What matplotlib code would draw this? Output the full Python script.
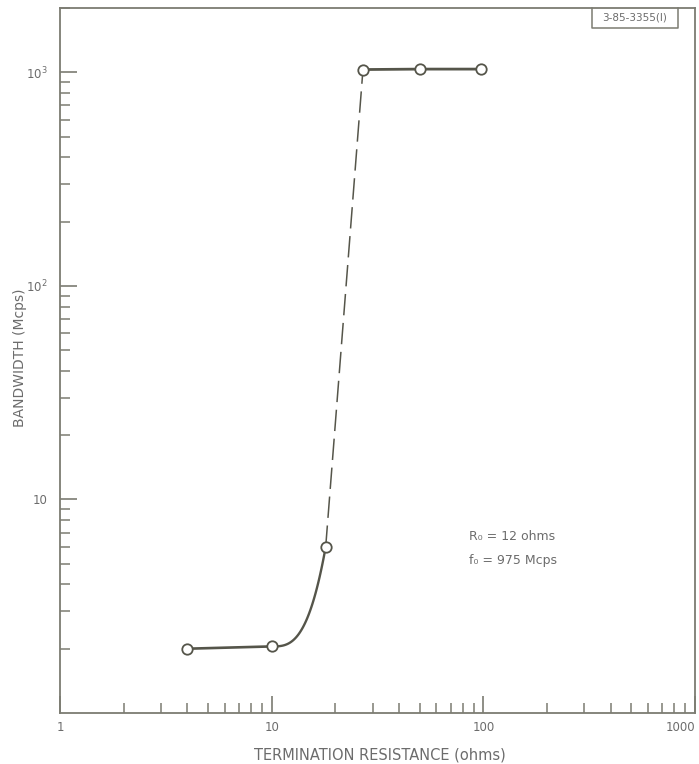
import numpy as np
import matplotlib
matplotlib.use('Agg')
import matplotlib.pyplot as plt
from matplotlib.ticker import LogLocator, NullFormatter, FixedLocator

# data
resistance = [4, 10, 18, 27, 50, 97]          # ohms
bandwidth = [2.0, 2.05, 6.0, 1030, 1035, 1035]  # Mcps
x_ticks = [1, 10, 100, 1000]
x_ticklabels = ['1', '10', '100', '1000']
y_ticks = [10, 100, 1000]
y_ticklabels = ['10', r'$\mathregular{10^2}$', r'$\mathregular{10^3}$']
note_lines = ['R\u2080 = 12 ohms', 'f\u2080 = 975 Mcps']
fig_id = '3-85-3355(I)'

LINE = '#55554a'
AXC = '#7c7c72'
TXT = '#6c6c6c'

plt.rcParams['font.family'] = ['DejaVu Sans']

fig = plt.figure(figsize=(6.99, 7.64), dpi=100)
ax = fig.add_axes([60/699, 1-713/764, (695-60)/699, (713-8)/764])
ax.set_xscale('log')
ax.set_yscale('log')
ax.set_xlim(1, 1000)
ax.set_ylim(1, 2000)

# flat part at low resistance
ax.plot(resistance[0:2], bandwidth[0:2], color=LINE, lw=1.9, solid_capstyle='round', zorder=2)

# smooth rise between 2nd and 3rd point (hermite in log space, flat start)
lx0, lx1 = np.log10(resistance[1]), np.log10(resistance[2])
ly0, ly1 = np.log10(bandwidth[1]), np.log10(bandwidth[2])
m1 = 5.5
t = np.linspace(0, 1, 80)
h = lx1 - lx0
ly = (2*t**3 - 3*t**2 + 1)*ly0 + (-2*t**3 + 3*t**2)*ly1 + (t**3 - t**2)*h*m1
ax.plot(10**(lx0 + t*h), 10**ly, color=LINE, lw=1.7, zorder=2)

# dashed jump
ax.plot(resistance[2:4], bandwidth[2:4], color=LINE, lw=1.1, dashes=(14, 5), zorder=2)

# flat part at high resistance
ax.plot(resistance[3:], bandwidth[3:], color=LINE, lw=2.0, zorder=2)

# points
ax.plot(resistance, bandwidth, 'o', ms=7.5, mfc='white', mec=LINE, mew=1.3, zorder=3)

# axes look
for s in ax.spines.values():
    s.set_color(AXC)
    s.set_linewidth(1.3)

ax.xaxis.set_major_locator(FixedLocator(x_ticks))
ax.set_xticklabels(x_ticklabels)
ax.xaxis.set_minor_locator(LogLocator(base=10, subs=np.arange(2, 10)))
ax.xaxis.set_minor_formatter(NullFormatter())
ax.yaxis.set_major_locator(FixedLocator(y_ticks))
ax.set_yticklabels(y_ticklabels)
ax.yaxis.set_minor_locator(LogLocator(base=10, subs=np.arange(2, 10)))
ax.yaxis.set_minor_formatter(NullFormatter())

ax.tick_params(which='major', direction='in', length=12, width=1.2, color=AXC,
               labelcolor=TXT, labelsize=8.5, top=False, right=False)
ax.tick_params(which='minor', direction='in', length=7, width=1.1, color=AXC,
               top=False, right=False)
ax.tick_params(axis='x', which='major', pad=6)
ax.tick_params(axis='y', which='major', pad=9)
lbls = ax.get_xticklabels()
lbls[-1].set_horizontalalignment('right')

ax.set_xlabel('TERMINATION RESISTANCE (ohms)', color=TXT, fontsize=10.5)
ax.xaxis.set_label_coords((380-60)/635, -(748-713)/705)
ax.set_ylabel('BANDWIDTH (Mcps)', color=TXT, fontsize=10)
ax.yaxis.set_label_coords((27-60)/635, (713-358)/705)

# parameter note
ax.text(0.644, 0.246, note_lines[0], transform=ax.transAxes, color=TXT, fontsize=9)
ax.text(0.644, 0.211, note_lines[1], transform=ax.transAxes, color=TXT, fontsize=9)

# figure id box at top right
bx0, bx1, by0 = (592-60)/635, (678-60)/635, 1-(28-8)/705
ax.plot([bx0, bx0, bx1, bx1], [1, by0, by0, 1], transform=ax.transAxes,
        color=AXC, lw=1.1, clip_on=False)
ax.text((bx0+bx1)/2, (1+by0)/2, fig_id, transform=ax.transAxes, ha='center',
        va='center', color=TXT, fontsize=7.5)

fig.savefig('out.png', dpi=100)
